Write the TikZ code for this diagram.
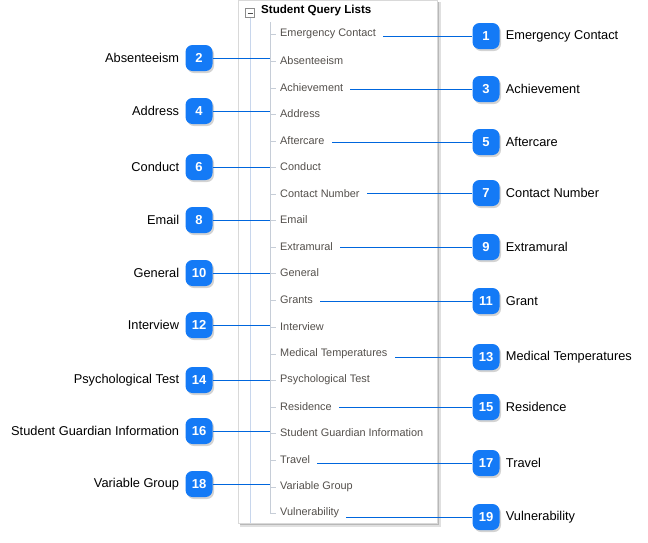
\documentclass[tikz,border=0pt]{standalone}
\usepackage{fontspec}
\setmainfont{Liberation Sans}
\usetikzlibrary{shadows,positioning}

\definecolor{badgeblue}{RGB}{20,122,246}
\definecolor{linkblue}{RGB}{0,102,221}
\definecolor{treeblue}{RGB}{200,214,236}
\definecolor{itemgray}{RGB}{84,80,76}

\tikzset{
  badge/.style={fill=badgeblue, rounded corners=7pt, minimum width=27pt, minimum height=26pt,
    inner sep=0pt, text=white, font=\fontsize{13}{15}\selectfont\bfseries,
    drop shadow={shadow xshift=1.5pt, shadow yshift=-2pt, opacity=0.35}},
  item/.style={anchor=west, inner sep=3pt, text=itemgray, font=\fontsize{10.9}{13}\selectfont},
  callout/.style={font=\fontsize{12.8}{15}\selectfont, inner sep=0pt},
  link/.style={draw=linkblue, line width=0.8pt}
}

\begin{document}
\begin{tikzpicture}[x=1pt,y=-1pt]
\useasboundingbox (0,0) rectangle (648,542);

% the panel
\fill[black!12] (240,2) rectangle (441,527);
\fill[black!28] (240,2) rectangle (439,525);
\fill[white, draw=black!15] (238,0) rectangle (437,523);
\draw[treeblue, line width=1pt] (250,18) -- (250,523);
\draw[treeblue!80!black!60, line width=0.6pt] (270,22) -- (270,513);
\draw[black!45, fill=white] (245.5,8.5) rectangle (254.5,17.5);
\draw[black!70] (247.5,13) -- (252.5,13);
\node[anchor=west, inner sep=0pt, font=\fontsize{11.6}{13}\selectfont\bfseries] (head) at (261,10) {Student Query Lists};
\coordinate (tree) at (270,0);

% the list
\node[item] (emerg) at (277,34) {Emergency Contact};
\node[item] (absent) at (277,61) {Absenteeism};
\node[item] (achiev) at (277,88) {Achievement};
\node[item] (addr) at (277,114) {Address};
\node[item] (after) at (277,141) {Aftercare};
\node[item] (cond) at (277,167) {Conduct};
\node[item] (contact) at (277,194) {Contact Number};
\node[item] (email) at (277,220) {Email};
\node[item] (extra) at (277,247) {Extramural};
\node[item] (general) at (277,273) {General};
\node[item] (grants) at (277,300) {Grants};
\node[item] (interv) at (277,327) {Interview};
\node[item] (medic) at (277,354) {Medical Temperatures};
\node[item] (psych) at (277,380) {Psychological Test};
\node[item] (resid) at (277,407) {Residence};
\node[item] (guard) at (277,433) {Student Guardian Information};
\node[item] (travel) at (277,460) {Travel};
\node[item] (vargrp) at (277,487) {Variable Group};
\node[item] (vulner) at (277,513) {Vulnerability};
\foreach \n in {emerg,absent,achiev,addr,after,cond,contact,email,extra,general,
  grants,interv,medic,psych,resid,guard,travel,vargrp,vulner}
  \draw[treeblue!80!black!60, line width=0.6pt] (\n.west -| tree) -- ++(6,0);

% right badges
\node[badge] (b1) at (486,36) {1};
\node[badge] (b3) at (486,89) {3};
\node[badge] (b5) at (486,142) {5};
\node[badge] (b7) at (486,193) {7};
\node[badge] (b9) at (486,247) {9};
\node[badge] (b11) at (486,301) {11};
\node[badge] (b13) at (486,357) {13};
\node[badge] (b15) at (486,407) {15};
\node[badge] (b17) at (486,463) {17};
\node[badge] (b19) at (486,517) {19};

\node[callout, right=6pt of b1] {Emergency Contact};
\node[callout, right=6pt of b3] {Achievement};
\node[callout, right=6pt of b5] {Aftercare};
\node[callout, right=6pt of b7] {Contact Number};
\node[callout, right=6pt of b9] {Extramural};
\node[callout, right=6pt of b11] {Grant};
\node[callout, right=6pt of b13] {Medical Temperatures};
\node[callout, right=6pt of b15] {Residence};
\node[callout, right=6pt of b17] {Travel};
\node[callout, right=6pt of b19] {Vulnerability};

\draw[link, shorten >=4pt] (b1.west) -- (b1.west -| emerg.east);
\draw[link, shorten >=4pt] (b3.west) -- (b3.west -| achiev.east);
\draw[link, shorten >=4pt] (b5.west) -- (b5.west -| after.east);
\draw[link, shorten >=4pt] (b7.west) -- (b7.west -| contact.east);
\draw[link, shorten >=4pt] (b9.west) -- (b9.west -| extra.east);
\draw[link, shorten >=4pt] (b11.west) -- (b11.west -| grants.east);
\draw[link, shorten >=4pt] (b13.west) -- (b13.west -| medic.east);
\draw[link, shorten >=4pt] (b15.west) -- (b15.west -| resid.east);
\draw[link, shorten >=4pt] (b17.west) -- (b17.west -| travel.east);
\draw[link, shorten >=4pt] (b19.west) -- (b19.west -| vulner.east);

% left badges
\node[badge] (b2) at (199,58) {2};
\node[badge] (b4) at (199,111) {4};
\node[badge] (b6) at (199,167) {6};
\node[badge] (b8) at (199,220) {8};
\node[badge] (b10) at (199,273) {10};
\node[badge] (b12) at (199,325) {12};
\node[badge] (b14) at (199,380) {14};
\node[badge] (b16) at (199,431) {16};
\node[badge] (b18) at (199,484) {18};

\node[callout, left=6pt of b2] {Absenteeism};
\node[callout, left=6pt of b4] {Address};
\node[callout, left=6pt of b6] {Conduct};
\node[callout, left=6pt of b8] {Email};
\node[callout, left=6pt of b10] {General};
\node[callout, left=6pt of b12] {Interview};
\node[callout, left=6pt of b14] {Psychological Test};
\node[callout, left=6pt of b16] {Student Guardian Information};
\node[callout, left=6pt of b18] {Variable Group};

\draw[link] (b2.east) -- (b2.east -| tree);
\draw[link] (b4.east) -- (b4.east -| tree);
\draw[link] (b6.east) -- (b6.east -| tree);
\draw[link] (b8.east) -- (b8.east -| tree);
\draw[link] (b10.east) -- (b10.east -| tree);
\draw[link] (b12.east) -- (b12.east -| tree);
\draw[link] (b14.east) -- (b14.east -| tree);
\draw[link] (b16.east) -- (b16.east -| tree);
\draw[link] (b18.east) -- (b18.east -| tree);
\end{tikzpicture}
\end{document}
